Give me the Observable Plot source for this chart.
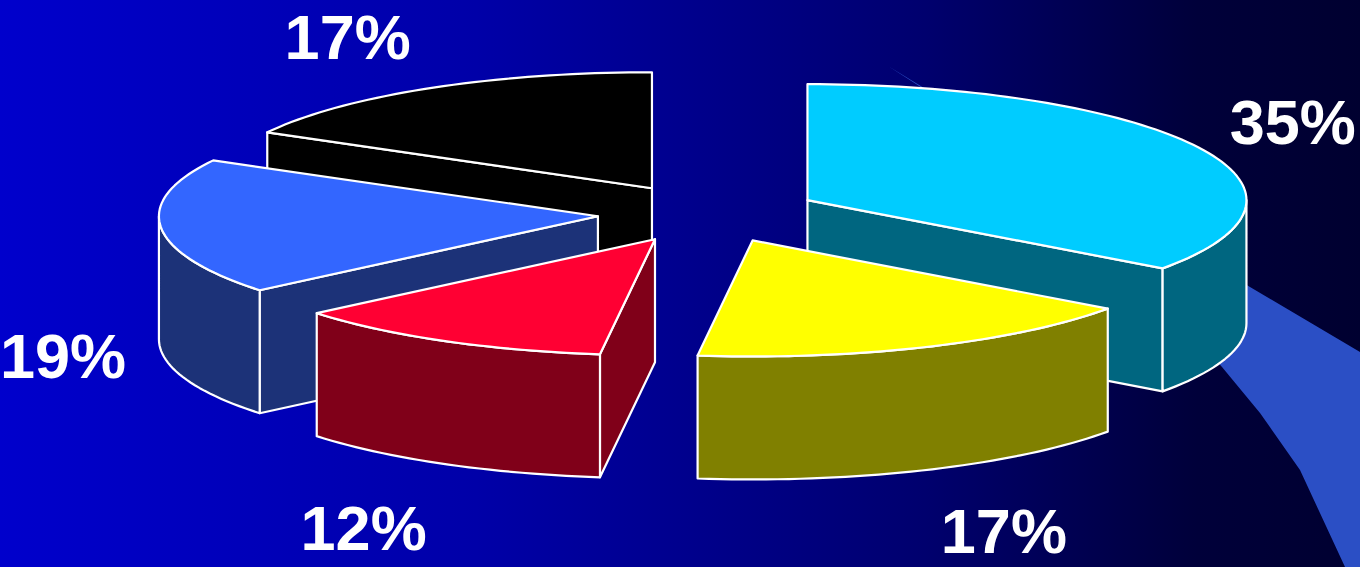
<!DOCTYPE html>
<html><head><meta charset="utf-8">
<script src="https://cdn.jsdelivr.net/npm/d3@7"></script>
<script src="https://cdn.jsdelivr.net/npm/@observablehq/plot@0.6"></script>
<style>
html,body{margin:0;padding:0;background:#000033;}
#wrap{position:relative;width:1360px;height:567px;overflow:hidden;
  background:linear-gradient(to right,#0000cc 0%,#0000a8 35%,#00006e 68%,#00003a 88%,#000030 100%);}
#swoosh{position:absolute;left:0;top:0;width:1360px;height:567px;background:#2b4fc5;
  clip-path:polygon(888px 66px,1250px 287px,1360px 352px,1360px 567px,1345px 567px,1300px 470px,1260px 413px,1222px 367px,1100px 230px,1000px 140px,930px 93px);}
#chart{position:absolute;left:0;top:0;}
</style></head><body>
<div id="wrap"><div id="swoosh"></div><div id="chart"></div></div>
<script>
// Slice values (percent), clockwise from 12 o'clock
const values = [35, 17, 12, 19, 17];
const topColors = ["#00ccff", "#ffff00", "#ff0033", "#3366ff", "#000000"];
const sideColors = ["#006680", "#808000", "#800019", "#1c3278", "#000000"];

// layout parameters
const W = 1360, H = 567;
const C0 = {x: 708, y: 213};
const RX = 439, RY = 116, DEPTH = 123, EXPLODE = 0.253;
const LX = 585, LY = 220, LBASE = 10, LD = 114, LMIN = 38, LMAX = 532;

const total = d3.sum(values);
let acc = 0;
const slices = values.map((v, i) => {
  const s = acc / total * 2 * Math.PI; acc += v;
  const e = acc / total * 2 * Math.PI;
  const m = (s + e) / 2;
  return {i, v, s, e, m,
    cx: C0.x + EXPLODE * RX * Math.sin(m),
    cy: C0.y - EXPLODE * RY * Math.cos(m)};
});
const pt = (sl, t, dz = 0) => ({x: sl.cx + RX * Math.sin(t), y: sl.cy - RY * Math.cos(t) + dz});
const arc = (sl, a0, a1, dz = 0) => {
  const n = Math.max(2, Math.ceil(Math.abs(a1 - a0) / (Math.PI / 120)));
  return d3.range(n + 1).map(k => pt(sl, a0 + (a1 - a0) * k / n, dz));
};

const polys = [];
let pid = 0;
function addPoly(points, fill) {
  const id = pid++;
  points.forEach(p => polys.push({id, x: p.x, y: p.y, fill}));
}
const order = slices.slice().sort((a, b) => a.cy - b.cy);
for (const sl of order) {
  const side = sideColors[sl.i], top = topColors[sl.i];
  const c = {x: sl.cx, y: sl.cy}, cb = {x: sl.cx, y: sl.cy + DEPTH};
  if (sl.s > Math.PI && sl.s < 2 * Math.PI) {
    const p = pt(sl, sl.s);
    addPoly([c, p, {x: p.x, y: p.y + DEPTH}, cb], side);
  }
  if (sl.e > 0 && sl.e < Math.PI) {
    const p = pt(sl, sl.e);
    addPoly([c, p, {x: p.x, y: p.y + DEPTH}, cb], side);
  }
  const a0 = Math.max(sl.s, Math.PI / 2), a1 = Math.min(sl.e, 3 * Math.PI / 2);
  if (a1 > a0) addPoly([...arc(sl, a0, a1), ...arc(sl, a1, a0, DEPTH)], side);
  addPoly([c, ...arc(sl, sl.s, sl.e)], top);
}

const clamp = (v, lo, hi) => Math.max(lo, Math.min(hi, v));
const labelData = slices.map(sl => ({
  x: C0.x + LX * Math.sin(sl.m),
  y: clamp(C0.y + LBASE - LY * Math.cos(sl.m) + (Math.cos(sl.m) < 0 ? LD : 0), LMIN, LMAX),
  text: `${sl.v}%`,
  right: Math.sin(sl.m) >= 0
}));

const textOpts = {x: "x", y: "y", text: "text", fill: "white", fontSize: 63, fontWeight: "bold",
  fontFamily: "'Liberation Sans', Arial, sans-serif", lineAnchor: "middle"};

const chart = Plot.plot({
  width: W, height: H,
  marginTop: 0, marginRight: 0, marginBottom: 0, marginLeft: 0,
  style: {background: "transparent"},
  x: {domain: [0, W], range: [0, W], axis: null},
  y: {domain: [0, H], range: [0, H], axis: null},
  marks: [
    Plot.line(polys, {x: "x", y: "y", z: "id", fill: "fill", stroke: "white", strokeWidth: 2.2,
      curve: "linear-closed", strokeLinejoin: "round"}),
    Plot.text(labelData.filter(d => d.right), {...textOpts, textAnchor: "start"}),
    Plot.text(labelData.filter(d => !d.right), {...textOpts, textAnchor: "end"})
  ]
});
document.getElementById("chart").appendChild(chart);
</script>
</body></html>
